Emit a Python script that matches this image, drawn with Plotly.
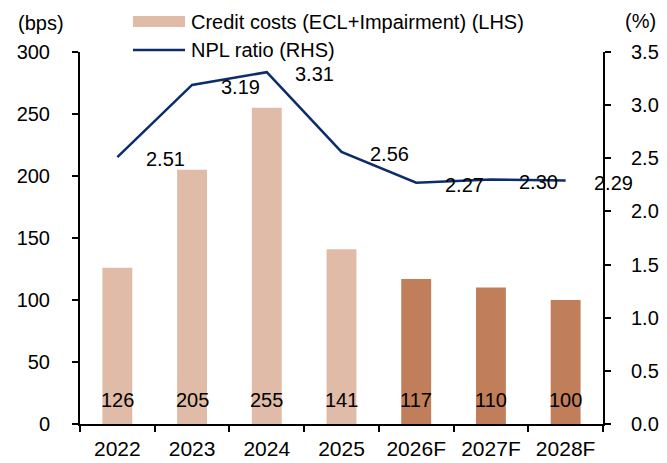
import plotly.graph_objects as go

years = ["2022", "2023", "2024", "2025", "2026F", "2027F", "2028F"]
credit_costs = [126, 205, 255, 141, 117, 110, 100]
npl_ratio = [2.51, 3.19, 3.31, 2.56, 2.27, 2.30, 2.29]

LIGHT = "#E0BBA8"
DARK = "#C07F5A"
NAVY = "#0C2D6B"
FONT = "Liberation Sans, Arial, sans-serif"
FS = 20

# page body keeps its 8px margin, so the figure is 8px smaller each way
W, H = 659, 455
ML, MR, MT, MB = 72, 64, 44, 39
PW, PH = W - ML - MR, H - MT - MB


def px_x(x):
    # page pixel -> paper x
    return (x - 8 - ML) / PW


def px_y(y):
    # page pixel -> paper y
    return (H - MB + 8 - y) / PH


bar_colors = [DARK if y.endswith("F") else LIGHT for y in years]

fig = go.Figure()
fig.add_trace(go.Bar(
    x=years, y=credit_costs, name="Credit costs (ECL+Impairment) (LHS)",
    marker=dict(color=bar_colors, line=dict(width=0)), width=0.4,
))
fig.add_trace(go.Scatter(
    x=years, y=npl_ratio, name="NPL ratio (RHS)", yaxis="y2",
    mode="lines", line=dict(color=NAVY, width=2.5),
))

# annotations on a category axis take the category index
# (a string like "2022" would be read as index 2022)
for i, v in enumerate(credit_costs):
    fig.add_annotation(x=i, y=0, yref="y", text=str(v), showarrow=False,
                       yshift=24, font=dict(size=FS, color="black", family=FONT))

# npl labels sit to the right of each point
for i, v in enumerate(npl_ratio):
    fig.add_annotation(x=i, y=v, yref="y2", text=f"{v:.2f}", showarrow=False,
                       xshift=48, yshift=-2, font=dict(size=FS, color="black", family=FONT))

# axis unit labels
fig.add_annotation(x=0, xref="paper", xanchor="right", xshift=-14, y=1, yref="paper",
                   yanchor="middle", yshift=29, text="(bps)", showarrow=False,
                   font=dict(size=20, color="black", family=FONT))
fig.add_annotation(x=1, xref="paper", xanchor="left", xshift=20, y=1, yref="paper",
                   yanchor="middle", yshift=31, text="(%)", showarrow=False,
                   font=dict(size=20, color="black", family=FONT))

# hand-drawn legend (swatches at the top)
fig.add_shape(type="rect", xref="paper", yref="paper",
              x0=px_x(133), x1=px_x(185), y0=px_y(27), y1=px_y(16),
              fillcolor=LIGHT, line=dict(width=0))
fig.add_shape(type="line", xref="paper", yref="paper",
              x0=px_x(133), x1=px_x(185), y0=px_y(50), y1=px_y(50),
              line=dict(color=NAVY, width=2.5))
fig.add_annotation(x=px_x(189), xref="paper", xanchor="left",
                   y=px_y(22), yref="paper", yanchor="middle",
                   text="Credit costs (ECL+Impairment) (LHS)", showarrow=False,
                   font=dict(size=20, color="black", family=FONT))
fig.add_annotation(x=px_x(189), xref="paper", xanchor="left",
                   y=px_y(50), yref="paper", yanchor="middle",
                   text="NPL ratio (RHS)", showarrow=False,
                   font=dict(size=20, color="black", family=FONT))

fig.update_layout(
    width=W, height=H,
    margin=dict(l=ML, r=MR, t=MT, b=MB, autoexpand=False),
    paper_bgcolor="white", plot_bgcolor="white",
    font=dict(family=FONT, size=FS, color="black"),
    showlegend=False,
    xaxis=dict(type="category", categoryorder="array", categoryarray=years,
               range=[-0.5, len(years) - 0.5],
               showline=True, linecolor="black", linewidth=2,
               ticks="outside", tickson="boundaries", ticklen=6, tickcolor="black",
               tickwidth=2, ticklabelstandoff=5, showgrid=False, tickangle=0,
               tickfont=dict(size=21)),
    yaxis=dict(range=[0, 300], dtick=50, showline=True, linecolor="black", linewidth=2,
               ticks="outside", ticklen=6, tickcolor="black", tickwidth=2,
               ticklabelstandoff=18, showgrid=False, zeroline=False),
    yaxis2=dict(range=[0, 3.5], dtick=0.5, tickformat=".1f", overlaying="y", side="right",
                showline=True, linecolor="black", linewidth=2, ticks="outside",
                ticklen=6, tickcolor="black", tickwidth=2, ticklabelstandoff=16,
                showgrid=False, zeroline=False),
)

fig.write_html("out.html")
